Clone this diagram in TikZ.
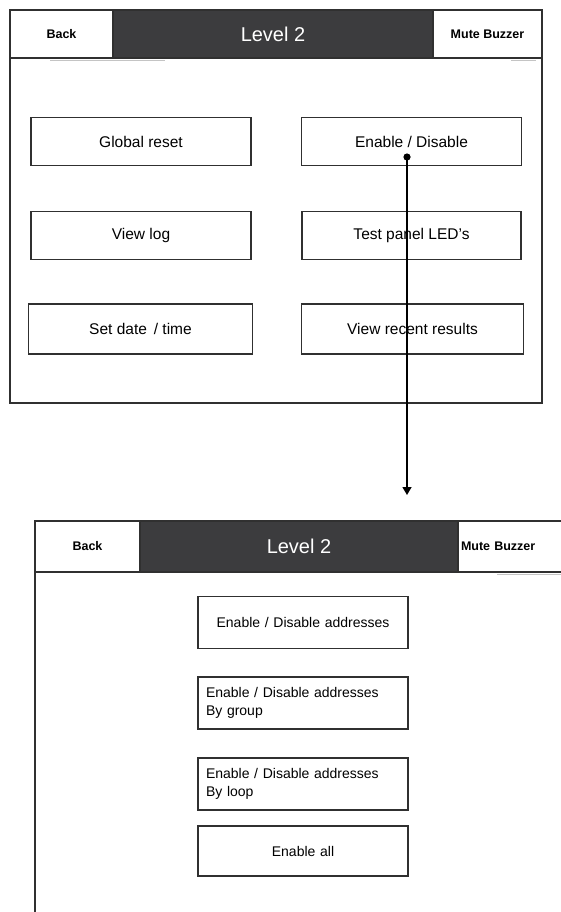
\documentclass[tikz,border=0pt]{standalone}
\usepackage{fontspec}
\setmainfont{Liberation Sans}
\usetikzlibrary{arrows.meta}
\definecolor{frame}{HTML}{303030}
\definecolor{barfill}{HTML}{3C3C3E}
\definecolor{shade}{HTML}{C4C4C4}
\tikzset{
  panel/.style={draw=frame, line width=1.6pt},
  sidebox/.style={draw=frame, line width=1.4pt, fill=white, inner sep=0pt,
    font=\bfseries\fontsize{12.5}{14}\selectfont},
  titlebar/.style={draw=frame, line width=1.4pt, fill=barfill, inner sep=0pt,
    text=white, font=\fontsize{20}{23}\selectfont},
  menubtn/.style={draw=frame, line width=1.5pt, fill=white, inner sep=0pt,
    minimum width=220pt, minimum height=48pt,
    font=\fontsize{15.5}{18}\selectfont},
  subbtn/.style={draw=frame, line width=1.5pt, fill=white,
    inner xsep=8pt, inner ysep=0pt, minimum height=52pt,
    font=\fontsize{14}{18}\selectfont},
  shadowline/.style={draw=shade, line width=1.4pt},
  link/.style={draw=black, line width=1.4pt, -{Triangle[length=8pt,width=9pt]}}
}
\begin{document}
\begin{tikzpicture}[x=1pt, y=-1pt]
  \useasboundingbox (0,0) rectangle (561,912);
  \clip (0,0) rectangle (561,912);

  % ---------- upper screen ----------
  \draw[panel] (10,10) rectangle (542,403);
  \draw[shadowline] (50,60.5) -- (165,60.5);
  \draw[shadowline] (511,60.5) -- (536,60.5);
  \node[sidebox, minimum width=103pt, minimum height=48pt] (backA) at (61.5,34) {Back};
  \node[titlebar, minimum width=320pt, minimum height=48pt] (titleA) at (273,34) {Level 2};
  \node[sidebox, minimum width=109pt, minimum height=48pt] (muteA) at (487.5,34) {Mute Buzzer};

  \node[menubtn] (reset) at (141,141.5) {Global reset};
  \node[menubtn] (enable) at (411.5,141.5) {Enable / Disable};
  \node[menubtn] (log) at (141,235.5) {View log};
  \node[menubtn, minimum width=219pt] (leds) at (411.5,235.5) {Test panel LED's};
  \node[menubtn, minimum width=224pt, minimum height=50pt] (date) at (140.5,329) {Set date\, / time};
  \node[menubtn, minimum width=222pt, minimum height=50pt] (recent) at (412.5,329) {View recent results};

  % ---------- lower screen ----------
  \draw[panel] (35,912) -- (35,521) -- (600,521);
  \draw[shadowline] (497,574.5) -- (561,574.5);
  \node[sidebox, minimum width=105pt, minimum height=51pt] (backB) at (87.5,546.5) {Back};
  \node[titlebar, minimum width=318pt, minimum height=51pt] (titleB) at (299,546.5) {Level 2};
  \node[sidebox, minimum width=140pt, minimum height=51pt, text width=134pt, align=left] (muteB) at (528,546.5) {Mute Buzzer};

  \node[subbtn, text width=194pt, align=center] (addr) at (303,622.5) {Enable / Disable addresses};
  \node[subbtn, text width=194pt, align=left] (group) at (303,703) {Enable / Disable addresses\\By group};
  \node[subbtn, text width=194pt, align=left] (loop) at (303,784) {Enable / Disable addresses\\By loop};
  \node[subbtn, text width=194pt, align=center, minimum height=50pt] (all) at (303,851) {Enable all};

  % ---------- navigation link ----------
  \coordinate (tap) at (407,157);
  \coordinate (drop) at (407,495);
  \fill[black] (tap) circle (3.6pt);
  \draw[link] (tap) -- (drop);
\end{tikzpicture}
\end{document}
